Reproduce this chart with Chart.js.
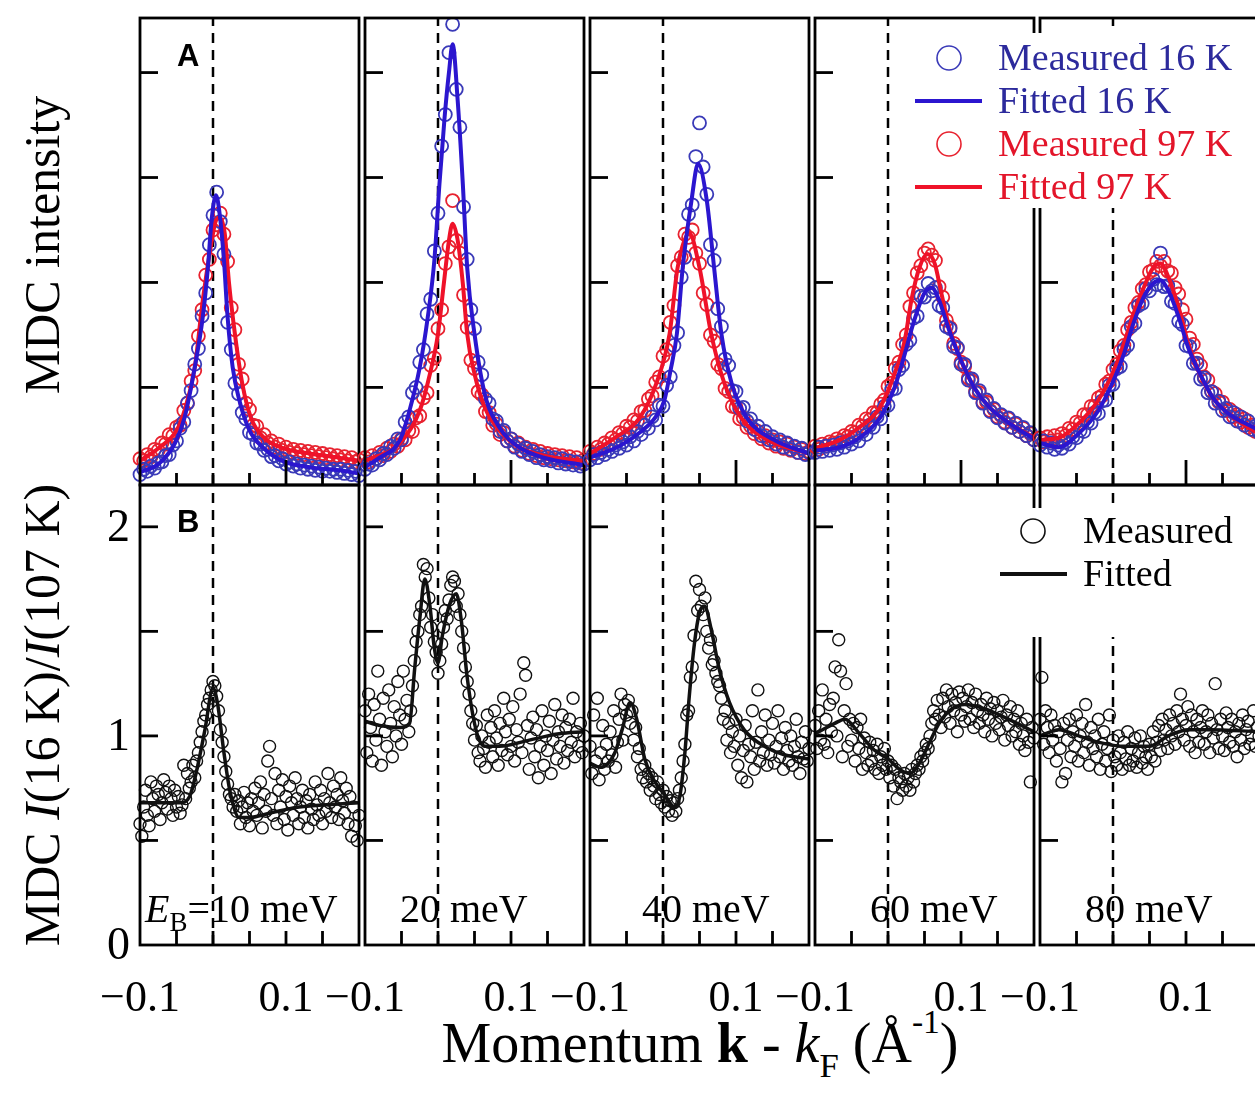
<!DOCTYPE html>
<html>
<head>
<meta charset="utf-8">
<script src="https://cdn.jsdelivr.net/npm/chart.js@4.4.1/dist/chart.umd.min.js"></script>
<style>
  html, body { margin:0; padding:0; background:#fff; }
  #fig { position:relative; width:1255px; height:1100px; overflow:hidden; background:#fff; }
  .ttl { position:absolute; font-family:'Liberation Serif', 'Times New Roman', serif; color:#000; white-space:nowrap; }
  .rot { font-size:50px; line-height:50px; transform: translate(-50%,-50%) rotate(-90deg); }
  .sub { font-size:0.62em; position:relative; top:0.42em; }
  .sup { font-size:0.6em; position:relative; top:-0.85em; }
</style>
</head>
<body>
<div id="fig">
  <div class="ttl rot" style="left:42px; top:245px;">MDC intensity</div>
  <div class="ttl rot" style="left:42px; top:715px;">MDC <i>I</i>(16 K)/<i>I</i>(107 K)</div>
  <div class="ttl" style="left:700px; top:1015px; font-size:56px; line-height:56px; transform:translateX(-50%);">Momentum <b>k</b> - <i>k</i><span class="sub">F</span> (Å<span class="sup">-1</span>)</div>
</div>
<script>
// ---------------- DATA ----------------
const energyLabels = ['10 meV', '20 meV', '40 meV', '60 meV', '80 meV'];

const xTickValues = [-0.1, 0.1];
const xTickText = ['\u22120.1', '0.1'];
const xMinorTicks = [-0.05, 0, 0.05, 0.1, 0.15];
const yTicksA = [1, 2, 3, 4];
const yTicksB = [0.5, 1, 1.5, 2];
const yLabelValuesB = [0, 1, 2];
const yLabelTextB = ['0', '1', '2'];

// momentum grid of the MDC intensity curves (1/Å)
const kA = [-0.1,-0.095,-0.09,-0.085,-0.08,-0.075,-0.07,-0.065,-0.06,-0.055,
-0.05,-0.045,-0.04,-0.035,-0.03,-0.025,-0.02,-0.015,-0.01,-0.005,
0,0.005,0.01,0.015,0.02,0.025,0.03,0.035,0.04,0.045,
0.05,0.055,0.06,0.065,0.07,0.075,0.08,0.085,0.09,0.095,
0.1,0.105,0.11,0.115,0.12,0.125,0.13,0.135,0.14,0.145,
0.15,0.155,0.16,0.165,0.17,0.175,0.18,0.185,0.19,0.195,
0.2];

// momentum grid of the ratio curves
const kB = [-0.1,-0.0975,-0.095,-0.0925,-0.09,-0.0875,-0.085,-0.0825,-0.08,-0.0775,
-0.075,-0.0725,-0.07,-0.0675,-0.065,-0.0625,-0.06,-0.0575,-0.055,-0.0525,
-0.05,-0.0475,-0.045,-0.0425,-0.04,-0.0375,-0.035,-0.0325,-0.03,-0.0275,
-0.025,-0.0225,-0.02,-0.0175,-0.015,-0.0125,-0.01,-0.0075,-0.005,-0.0025,
0,0.0025,0.005,0.0075,0.01,0.0125,0.015,0.0175,0.02,0.0225,
0.025,0.0275,0.03,0.0325,0.035,0.0375,0.04,0.0425,0.045,0.0475,
0.05,0.0525,0.055,0.0575,0.06,0.0625,0.065,0.0675,0.07,0.0725,
0.075,0.0775,0.08,0.0825,0.085,0.0875,0.09,0.0925,0.095,0.0975,
0.1,0.1025,0.105,0.1075,0.11,0.1125,0.115,0.1175,0.12,0.1225,
0.125,0.1275,0.13,0.1325,0.135,0.1375,0.14,0.1425,0.145,0.1475,
0.15,0.1525,0.155,0.1575,0.16,0.1625,0.165,0.1675,0.17,0.1725,
0.175,0.1775,0.18,0.1825,0.185,0.1875,0.19,0.1925,0.195,0.1975,
0.2];

// Panel A: measured MDC intensity (arb. units)
const mdc16_10 = [0.17,0.22,0.20,0.25,0.23,0.28,0.29,0.35,0.36,0.45,
0.49,0.61,0.67,0.85,0.97,1.22,1.37,1.68,1.90,2.36,
2.64,2.86,2.58,2.27,1.62,1.36,1.04,0.94,0.76,0.70,
0.57,0.55,0.47,0.46,0.40,0.41,0.34,0.35,0.30,0.32,
0.27,0.29,0.25,0.27,0.23,0.26,0.22,0.25,0.21,0.24,
0.20,0.23,0.20,0.22,0.19,0.22,0.18,0.21,0.17,0.20,
0.16];
const mdc97_10 = [0.32,0.30,0.36,0.34,0.41,0.40,0.47,0.46,0.55,0.54,
0.62,0.64,0.78,0.85,1.06,1.16,1.49,1.74,2.07,2.22,
2.50,2.55,2.66,2.46,2.20,1.76,1.55,1.22,1.08,0.85,
0.79,0.64,0.63,0.52,0.55,0.47,0.49,0.43,0.46,0.40,
0.43,0.38,0.41,0.37,0.40,0.36,0.39,0.35,0.38,0.34,
0.37,0.33,0.36,0.32,0.35,0.31,0.34,0.30,0.33,0.29,
0.31];
const mdc16_20 = [0.22,0.27,0.26,0.32,0.31,0.37,0.36,0.44,0.42,0.51,
0.50,0.67,0.72,0.95,1.00,1.24,1.36,1.70,1.84,2.30,
2.66,3.30,3.60,4.19,4.46,3.84,3.48,2.72,2.22,1.74,
1.56,1.24,1.12,0.89,0.85,0.70,0.68,0.58,0.59,0.49,
0.51,0.43,0.46,0.39,0.42,0.36,0.39,0.33,0.36,0.31,
0.34,0.30,0.33,0.28,0.32,0.27,0.30,0.26,0.29,0.25,
0.27];
const mdc97_20 = [0.33,0.29,0.35,0.32,0.38,0.35,0.42,0.39,0.46,0.44,
0.51,0.50,0.59,0.58,0.71,0.73,0.90,0.95,1.21,1.28,
1.56,1.74,2.18,2.34,2.78,2.40,2.28,1.88,1.57,1.26,
1.18,0.96,0.93,0.77,0.76,0.64,0.65,0.55,0.57,0.49,
0.51,0.44,0.47,0.40,0.43,0.37,0.41,0.35,0.39,0.33,
0.37,0.32,0.36,0.31,0.35,0.30,0.34,0.29,0.33,0.28,
0.31];
const mdc16_40 = [0.31,0.36,0.33,0.38,0.36,0.41,0.39,0.45,0.42,0.48,
0.45,0.53,0.49,0.58,0.55,0.64,0.61,0.72,0.69,0.83,
0.82,1.02,1.10,1.40,1.52,2.05,2.24,2.65,2.74,3.20,
3.52,3.10,2.84,2.36,2.21,1.75,1.58,1.27,1.21,0.97,
0.96,0.80,0.81,0.68,0.70,0.60,0.63,0.54,0.58,0.50,
0.53,0.46,0.50,0.43,0.47,0.41,0.44,0.38,0.42,0.36,
0.38];
const mdc97_40 = [0.39,0.37,0.43,0.41,0.47,0.46,0.52,0.50,0.57,0.56,
0.63,0.62,0.69,0.68,0.77,0.78,0.89,0.92,1.05,1.10,
1.30,1.36,1.62,1.78,2.16,2.24,2.46,2.43,2.50,2.28,
2.18,1.90,1.79,1.50,1.44,1.22,1.18,0.99,0.96,0.82,
0.81,0.70,0.71,0.62,0.63,0.56,0.58,0.51,0.54,0.47,
0.50,0.44,0.48,0.42,0.46,0.40,0.43,0.38,0.41,0.37,
0.39];
const mdc16_60 = [0.38,0.43,0.39,0.44,0.40,0.45,0.41,0.47,0.43,0.49,
0.46,0.53,0.49,0.58,0.55,0.64,0.62,0.72,0.70,0.82,
0.83,0.98,0.99,1.17,1.21,1.41,1.45,1.66,1.68,1.87,
1.86,1.99,1.92,1.95,1.78,1.76,1.58,1.56,1.39,1.38,
1.22,1.22,1.07,1.08,0.95,0.97,0.85,0.88,0.77,0.80,
0.71,0.74,0.66,0.71,0.62,0.66,0.58,0.62,0.54,0.57,
0.50];
const mdc97_60 = [0.44,0.41,0.46,0.44,0.48,0.47,0.51,0.49,0.54,0.53,
0.58,0.57,0.64,0.63,0.70,0.69,0.76,0.76,0.84,0.88,
1.01,1.04,1.18,1.24,1.41,1.50,1.77,1.90,2.09,2.16,
2.28,2.32,2.26,2.21,1.96,1.86,1.64,1.57,1.42,1.37,
1.24,1.20,1.09,1.06,0.96,0.95,0.86,0.86,0.78,0.79,
0.72,0.73,0.67,0.70,0.62,0.65,0.58,0.61,0.54,0.56,
0.50];
const mdc16_80 = [0.45,0.49,0.43,0.47,0.41,0.45,0.42,0.48,0.46,0.53,
0.52,0.59,0.58,0.67,0.66,0.76,0.75,0.87,0.88,1.02,
1.03,1.18,1.20,1.36,1.40,1.58,1.61,1.78,1.80,1.94,
1.92,2.03,1.98,2.28,1.96,1.97,1.82,1.80,1.63,1.60,
1.40,1.39,1.23,1.23,1.08,1.09,0.95,0.96,0.85,0.87,
0.78,0.80,0.72,0.76,0.68,0.72,0.64,0.68,0.60,0.63,
0.57];
const mdc97_80 = [0.52,0.48,0.53,0.49,0.54,0.50,0.56,0.54,0.61,0.60,
0.67,0.66,0.74,0.74,0.82,0.82,0.90,0.92,1.03,1.06,
1.17,1.22,1.35,1.40,1.55,1.62,1.76,1.81,1.94,1.98,
2.10,2.12,2.20,2.16,2.20,2.11,2.09,1.95,1.89,1.74,
1.65,1.47,1.41,1.27,1.21,1.10,1.07,0.96,0.94,0.86,
0.86,0.78,0.79,0.72,0.74,0.67,0.70,0.62,0.64,0.58,
0.58];

// Panel A: fitted curves (k, value)
const fit16_10_k = [-0.1,-0.073,-0.052,-0.039,-0.025,-0.014,-0.007,-0.002,0.004,0.009,0.015,0.02,0.027,0.036,0.05,0.068,0.095,0.132,0.173,0.2];
const fit16_10_v = [0.19,0.28,0.47,0.71,1.19,1.67,2.14,2.59,2.83,2.66,2.21,1.67,1.19,0.88,0.59,0.43,0.30,0.24,0.21,0.18];
const fit97_10_k = [-0.1,-0.073,-0.05,-0.039,-0.025,-0.014,-0.004,0.004,0.009,0.016,0.022,0.03,0.04,0.052,0.07,0.097,0.132,0.173,0.2];
const fit97_10_v = [0.30,0.43,0.59,0.78,1.19,1.83,2.30,2.59,2.62,2.47,1.99,1.51,1.04,0.71,0.52,0.42,0.37,0.33,0.30];
const fit16_20_k = [-0.1,-0.08,-0.052,-0.039,-0.025,-0.014,-0.005,0.002,0.009,0.015,0.02,0.027,0.034,0.04,0.05,0.064,0.084,0.111,0.145,0.2];
const fit16_20_v = [0.24,0.33,0.50,0.78,1.19,1.67,2.21,2.94,3.57,4.00,4.27,3.73,2.94,2.14,1.51,0.94,0.62,0.43,0.33,0.26];
const fit97_20_k = [-0.1,-0.052,-0.025,-0.011,0,0.008,0.015,0.02,0.027,0.034,0.04,0.05,0.064,0.084,0.111,0.145,0.2];
const fit97_20_v = [0.30,0.47,0.78,1.13,1.51,1.99,2.40,2.56,2.40,1.99,1.51,1.13,0.81,0.59,0.43,0.35,0.30];
const fit16_40_k = [-0.1,-0.06,-0.03,-0.01,0.002,0.01,0.019,0.027,0.039,0.048,0.06,0.07,0.08,0.094,0.115,0.152,0.2];
const fit16_40_v = [0.33,0.44,0.58,0.72,0.88,1.15,1.51,2.14,2.78,3.13,2.78,2.14,1.51,1.04,0.71,0.50,0.37];
const fit97_40_k = [-0.1,-0.066,-0.032,-0.009,0.009,0.02,0.036,0.05,0.066,0.084,0.107,0.143,0.2];
const fit97_40_v = [0.37,0.52,0.71,1.04,1.51,2.14,2.47,2.14,1.51,1.04,0.71,0.50,0.37];
const fit16_60_k = [-0.1,-0.066,-0.039,-0.011,0.009,0.023,0.036,0.05,0.06,0.07,0.084,0.098,0.118,0.139,0.166,0.2];
const fit16_60_v = [0.40,0.43,0.52,0.71,1.00,1.32,1.64,1.90,1.95,1.83,1.54,1.29,1.00,0.81,0.66,0.51];
const fit97_60_k = [-0.1,-0.066,-0.039,-0.011,0.009,0.023,0.032,0.043,0.054,0.064,0.073,0.084,0.098,0.118,0.139,0.166,0.2];
const fit97_60_v = [0.42,0.50,0.62,0.81,1.13,1.45,1.83,2.14,2.27,2.18,1.90,1.57,1.29,1.00,0.81,0.66,0.52];
const fit16_80_k = [-0.1,-0.074,-0.047,-0.02,0.001,0.015,0.028,0.042,0.055,0.065,0.076,0.09,0.103,0.117,0.137,0.158,0.192,0.2];
const fit16_80_v = [0.47,0.43,0.56,0.78,1.07,1.32,1.61,1.86,1.99,2.02,1.92,1.67,1.38,1.16,0.90,0.75,0.62,0.59];
const fit97_80_k = [-0.1,-0.074,-0.047,-0.02,0.001,0.015,0.028,0.042,0.055,0.065,0.076,0.09,0.103,0.117,0.137,0.158,0.192,0.2];
const fit97_80_v = [0.50,0.52,0.66,0.88,1.16,1.42,1.70,1.95,2.14,2.18,2.05,1.76,1.42,1.16,0.90,0.75,0.59,0.56];

// Panel B: measured ratio I(16 K)/I(107 K)
const ratio_10 = [0.58,0.52,0.66,0.74,0.62,0.57,0.78,0.70,0.64,0.76,
0.72,0.60,0.68,0.79,0.73,0.65,0.76,0.70,0.62,0.74,
0.66,0.71,0.63,0.67,0.86,0.70,0.82,0.75,0.78,0.86,
0.80,0.88,0.92,0.97,1.02,1.07,1.10,1.15,1.18,1.22,
1.26,1.24,1.19,1.12,1.03,0.97,0.90,0.83,0.77,0.72,
0.70,0.66,0.72,0.64,0.69,0.58,0.66,0.73,0.61,0.68,
0.57,0.70,0.64,0.75,0.62,0.68,0.78,0.56,0.72,0.64,
0.88,0.95,0.70,0.62,0.82,0.58,0.74,0.66,0.79,0.60,
0.71,0.55,0.76,0.68,0.62,0.80,0.70,0.58,0.66,0.74,
0.61,0.69,0.56,0.72,0.65,0.60,0.78,0.67,0.62,0.74,
0.58,0.70,0.64,0.82,0.68,0.61,0.76,0.66,0.72,0.60,
0.80,0.69,0.63,0.75,0.58,0.71,0.52,0.66,0.57,0.50,
0.62];
const ratio_20 = [1.12,0.92,1.20,1.04,0.88,1.15,0.98,1.31,1.08,0.86,
1.18,1.02,0.95,1.22,1.06,0.90,1.14,1.00,1.26,1.10,
0.96,1.31,1.08,1.17,1.02,1.12,1.24,1.36,1.45,1.50,
1.58,1.62,1.82,1.76,1.80,1.66,1.52,1.58,1.45,1.40,
1.30,1.36,1.44,1.52,1.60,1.56,1.65,1.72,1.76,1.74,
1.62,1.68,1.58,1.50,1.42,1.33,1.26,1.20,1.12,1.06,
0.98,1.05,0.92,0.88,1.00,0.94,0.85,1.10,0.97,1.04,
0.90,1.12,0.99,0.86,1.06,0.93,1.18,1.02,0.91,1.08,
0.95,1.14,0.88,1.03,0.97,1.20,0.92,1.35,1.29,1.05,
0.84,0.99,1.09,0.90,1.03,0.80,0.95,1.12,0.86,1.00,
0.93,1.07,0.82,0.98,1.15,0.89,1.02,0.95,1.10,0.87,
1.04,0.93,1.08,0.97,1.18,0.90,1.02,0.95,1.06,0.92,
1.00];
const ratio_40 = [0.95,0.82,1.10,0.88,1.18,0.79,0.92,1.05,0.84,0.96,
0.88,1.02,0.91,1.12,0.85,0.97,1.08,1.20,0.98,1.15,
1.10,1.17,1.06,1.12,0.98,1.04,0.90,0.94,0.84,0.80,
0.86,0.78,0.82,0.74,0.80,0.76,0.70,0.78,0.72,0.68,
0.74,0.66,0.71,0.64,0.69,0.62,0.68,0.64,0.70,0.74,
0.80,0.88,0.96,1.10,1.12,1.28,1.33,1.48,1.74,1.60,
1.70,1.62,1.58,1.66,1.50,1.42,1.46,1.34,1.36,1.30,
1.26,1.24,1.18,1.08,1.12,0.98,1.06,0.92,1.02,0.95,
1.08,0.86,1.00,0.80,0.93,1.05,0.78,0.96,0.90,1.12,
0.84,0.97,1.22,0.88,1.02,0.92,1.10,0.86,0.98,0.91,
1.06,0.87,0.95,1.12,0.90,0.99,0.84,1.04,0.93,0.88,
1.00,0.86,0.95,1.08,0.90,0.82,0.97,0.89,1.02,0.88,
0.94];
const ratio_60 = [1.05,0.94,1.12,0.98,1.22,0.96,1.08,0.92,1.15,1.02,
1.18,1.33,1.00,1.46,1.31,0.90,1.12,1.25,0.95,1.08,
0.98,1.06,0.88,1.04,0.94,1.08,0.84,0.99,0.92,0.86,
0.97,0.88,0.93,0.84,0.96,0.82,0.90,0.86,0.94,0.84,
0.88,0.80,0.86,0.76,0.84,0.70,0.80,0.78,0.74,0.82,
0.76,0.80,0.74,0.84,0.78,0.82,0.86,0.84,0.90,0.88,
0.92,0.96,0.94,1.00,1.06,1.12,1.08,1.17,1.10,1.04,
1.18,1.09,1.22,1.14,1.06,1.20,1.12,1.16,1.02,1.21,
1.10,1.18,1.07,1.14,1.22,1.08,1.16,1.04,1.20,1.12,
1.06,1.15,1.10,1.02,1.18,1.08,1.13,1.00,1.16,1.06,
1.12,1.03,1.09,1.17,0.98,1.10,1.05,1.14,1.00,1.08,
1.02,1.12,0.96,1.06,1.00,0.93,1.08,0.97,0.78,1.04,
0.99];
const ratio_80 = [1.08,1.28,0.96,1.12,1.04,0.92,1.10,0.98,1.05,0.88,
1.02,0.94,0.78,1.06,0.82,0.98,1.08,0.90,1.02,0.95,
1.10,0.88,1.00,1.06,0.92,1.15,0.97,0.86,1.04,0.94,
1.00,0.90,1.08,0.84,0.96,1.02,0.88,0.94,1.10,0.83,
0.98,0.90,0.86,1.00,0.92,0.84,0.97,0.89,1.02,0.86,
0.94,0.88,0.99,0.85,0.92,1.00,0.87,0.95,0.90,0.84,
0.96,0.90,1.02,0.88,0.97,1.05,0.93,1.08,0.98,1.03,
0.94,1.10,1.00,1.06,0.96,1.12,1.02,1.20,1.08,0.98,
1.05,1.14,0.95,1.10,1.02,0.92,1.08,0.97,1.04,1.12,
0.96,1.02,1.10,0.92,1.06,0.99,1.25,1.03,0.94,1.08,
1.00,0.93,1.11,1.04,0.97,1.08,0.95,1.02,0.90,1.06,
0.98,1.10,0.94,1.03,1.07,0.96,1.00,1.12,0.95,1.04,
1.00];

// Panel B: fitted ratio curves
const ratioFit_10_k = [-0.1,-0.045,-0.032,-0.022,-0.011,0,0.006,0.015,0.023,0.036,0.05,0.077,0.118,0.2];
const ratioFit_10_v = [0.68,0.68,0.71,0.84,1.03,1.23,1.16,0.92,0.74,0.61,0.61,0.63,0.66,0.68];
const ratioFit_20_k = [-0.1,-0.08,-0.052,-0.039,-0.032,-0.025,-0.018,-0.011,-0.005,0,0.006,0.016,0.025,0.032,0.04,0.052,0.064,0.084,0.125,0.166,0.2];
const ratioFit_20_v = [1.07,1.05,1.04,1.06,1.32,1.56,1.75,1.62,1.42,1.35,1.48,1.63,1.68,1.55,1.28,1.03,0.95,0.95,0.98,1.01,1.02];
const ratioFit_40_k = [-0.1,-0.086,-0.066,-0.056,-0.045,-0.036,-0.025,-0.011,0.002,0.016,0.023,0.03,0.036,0.043,0.05,0.057,0.066,0.077,0.091,0.111,0.139,0.166,0.2];
const ratioFit_40_v = [0.87,0.85,0.92,1.03,1.16,1.08,0.89,0.78,0.72,0.66,0.71,0.92,1.19,1.44,1.59,1.62,1.51,1.32,1.16,1.03,0.95,0.91,0.89];
const ratioFit_60_k = [-0.1,-0.073,-0.059,-0.039,-0.018,0,0.016,0.03,0.043,0.057,0.07,0.084,0.105,0.132,0.159,0.2];
const ratioFit_60_v = [1.01,1.06,1.08,1.01,0.93,0.89,0.84,0.82,0.87,0.97,1.06,1.12,1.15,1.13,1.09,1.02];
const ratioFit_80_k = [-0.1,-0.074,-0.047,-0.02,0.015,0.049,0.076,0.103,0.13,0.2];
const ratioFit_80_v = [1.00,1.03,1.00,0.97,0.95,0.95,1.00,1.03,1.03,1.02];

// ---------------- LAYOUT / STYLE ----------------
const PANEL_LEFT = [140, 365, 590, 815, 1040];
const PANEL_W = 219;
const ROWS = {
  A: { top: 18, h: 467, min: 0.07, max: 4.52, ptR: 6.5, ptW: 1.8 },
  B: { top: 485, h: 460, min: 0, max: 2.2, ptR: 6, ptW: 1.4 }
};
const X_MIN = -0.1, X_MAX = 0.2;
const PAD = { l: 150, r: 20, t: 20, b: 120 };
const ENERGY_OFFSET = [5, 35, 52, 55, 45];
const SERIF = '"Liberation Serif", "Times New Roman", serif';
const C = {
  blueLine: '#2b16cf', bluePt: '#3a3ab8', blueText: '#2c2a9c',
  redLine: '#ef1229', redPt: '#e8222f', redText: '#e3152a',
  black: '#111111'
};

const panelsA = [
  { m16: mdc16_10, m97: mdc97_10, f16k: fit16_10_k, f16v: fit16_10_v, f97k: fit97_10_k, f97v: fit97_10_v },
  { m16: mdc16_20, m97: mdc97_20, f16k: fit16_20_k, f16v: fit16_20_v, f97k: fit97_20_k, f97v: fit97_20_v },
  { m16: mdc16_40, m97: mdc97_40, f16k: fit16_40_k, f16v: fit16_40_v, f97k: fit97_40_k, f97v: fit97_40_v },
  { m16: mdc16_60, m97: mdc97_60, f16k: fit16_60_k, f16v: fit16_60_v, f97k: fit97_60_k, f97v: fit97_60_v },
  { m16: mdc16_80, m97: mdc97_80, f16k: fit16_80_k, f16v: fit16_80_v, f97k: fit97_80_k, f97v: fit97_80_v }
];
const panelsB = [
  { m: ratio_10, fk: ratioFit_10_k, fv: ratioFit_10_v },
  { m: ratio_20, fk: ratioFit_20_k, fv: ratioFit_20_v },
  { m: ratio_40, fk: ratioFit_40_k, fv: ratioFit_40_v },
  { m: ratio_60, fk: ratioFit_60_k, fv: ratioFit_60_v },
  { m: ratio_80, fk: ratioFit_80_k, fv: ratioFit_80_v }
];
const LEGEND_A = ['Measured 16 K', 'Fitted 16 K', 'Measured 97 K', 'Fitted 97 K'];
const LEGEND_B = ['Measured', 'Fitted'];

const pts = (xs, ys) => xs.map((x, i) => ({ x: x, y: ys[i] }));

function fitDS(label, xs, ys, color, width, legendColor) {
  return { label, data: pts(xs, ys), borderColor: color, backgroundColor: color, borderWidth: width,
    pointRadius: 0, cubicInterpolationMode: 'monotone', fill: false, clip: 3, legendColor };
}
function measDS(label, xs, ys, color, legendColor, row) {
  return { label, data: pts(xs, ys), showLine: false, borderColor: color, backgroundColor: 'rgba(0,0,0,0)',
    pointRadius: row.ptR, pointBorderWidth: row.ptW, pointBorderColor: color, pointBackgroundColor: 'rgba(0,0,0,0)',
    pointStyle: 'circle', clip: 8, legendColor };
}
function kfDS(row) {
  return { label: 'kF', data: [{ x: 0, y: row.min }, { x: 0, y: row.max }], borderColor: '#000',
    borderWidth: 2.5, borderDash: [10, 7], pointRadius: 0, fill: false };
}

function drawLegend(ctx, chart, labels, box, o) {
  ctx.save();
  ctx.fillStyle = '#fff';
  ctx.fillRect(box.x, box.y, box.w, box.h);
  labels.forEach((lab, i) => {
    const ds = chart.data.datasets.find(d => d.label === lab);
    const cy = box.y + o.first + i * o.step;
    if (ds.showLine === false) {
      ctx.beginPath();
      ctx.arc(o.markX, cy, o.r, 0, Math.PI * 2);
      ctx.strokeStyle = ds.pointBorderColor;
      ctx.lineWidth = 1.6;
      ctx.stroke();
    } else {
      ctx.beginPath();
      ctx.moveTo(o.lineX0, cy);
      ctx.lineTo(o.lineX1, cy);
      ctx.strokeStyle = ds.borderColor;
      ctx.lineWidth = 4;
      ctx.stroke();
    }
    ctx.fillStyle = ds.legendColor;
    ctx.font = '38px ' + SERIF;
    ctx.textAlign = 'left';
    ctx.textBaseline = 'middle';
    ctx.fillText(lab, o.textX, cy + 2);
  });
  ctx.restore();
}

function decorPlugin(rowKey, col) {
  return {
    id: 'decor',
    afterDatasetsDraw(chart) {
      const ctx = chart.ctx, ca = chart.chartArea;
      const xs = chart.scales.x, ys = chart.scales.y;
      ctx.save();
      ctx.strokeStyle = '#000';
      ctx.lineWidth = 2.8;
      ctx.strokeRect(ca.left, ca.top, ca.right - ca.left, ca.bottom - ca.top);
      xMinorTicks.forEach(v => {
        const px = xs.getPixelForValue(v);
        const len = rowKey === 'A' ? (v === 0.1 ? 25 : 12) : 14;
        ctx.beginPath(); ctx.moveTo(px, ca.bottom); ctx.lineTo(px, ca.bottom - len); ctx.stroke();
      });
      (rowKey === 'A' ? yTicksA : yTicksB).forEach(v => {
        const py = ys.getPixelForValue(v);
        ctx.beginPath(); ctx.moveTo(ca.left, py); ctx.lineTo(ca.left + 18, py); ctx.stroke();
      });
      ctx.restore();
    },
    afterDraw(chart) {
      const ctx = chart.ctx, ca = chart.chartArea;
      const xs = chart.scales.x, ys = chart.scales.y;
      ctx.save();
      ctx.fillStyle = '#000';
      if (rowKey === 'B') {
        ctx.font = '44px ' + SERIF;
        ctx.textAlign = 'center';
        ctx.textBaseline = 'alphabetic';
        xTickValues.forEach((v, i) => ctx.fillText(xTickText[i], xs.getPixelForValue(v), ca.bottom + 66));
        if (col === 0) {
          ctx.font = '46px ' + SERIF;
          ctx.textAlign = 'right';
          ctx.textBaseline = 'middle';
          yLabelValuesB.forEach((v, i) => ctx.fillText(yLabelTextB[i], ca.left - 10, ys.getPixelForValue(v) + 2));
        }
        // energy label
        ctx.textAlign = 'left';
        ctx.textBaseline = 'alphabetic';
        let x0 = ca.left + ENERGY_OFFSET[col];
        const yb = ca.bottom - 23;
        if (col === 0) {
          ctx.font = 'italic 40px ' + SERIF;
          ctx.fillText('E', x0, yb); x0 += ctx.measureText('E').width;
          ctx.font = '27px ' + SERIF;
          ctx.fillText('B', x0, yb + 9); x0 += ctx.measureText('B').width;
          ctx.font = '40px ' + SERIF;
          ctx.fillText('=' + energyLabels[0], x0, yb);
        } else {
          ctx.font = '40px ' + SERIF;
          ctx.fillText(energyLabels[col], x0, yb);
        }
      }
      if (col === 0) {
        ctx.font = 'bold 31px "Liberation Sans", Arial, sans-serif';
        ctx.textAlign = 'left';
        ctx.textBaseline = 'middle';
        ctx.fillText(rowKey, ca.left + 37, ca.top + (rowKey === 'A' ? 39 : 38));
      }
      ctx.restore();
      if (col === 4 && rowKey === 'A') {
        drawLegend(ctx, chart, LEGEND_A,
          { x: ca.left - 135, y: ca.top + 15, w: 400, h: 175 },
          { first: 25, step: 43, markX: ca.left - 91, r: 12, lineX0: ca.left - 125, lineX1: ca.left - 58, textX: ca.left - 42 });
      }
      if (col === 4 && rowKey === 'B') {
        drawLegend(ctx, chart, LEGEND_B,
          { x: ca.left - 45, y: ca.top + 23, w: 300, h: 129 },
          { first: 23, step: 43, markX: ca.left - 7, r: 12, lineX0: ca.left - 40, lineX1: ca.left + 27, textX: ca.left + 43 });
      }
    }
  };
}

const fig = document.getElementById('fig');
function makeChart(rowKey, col, datasets) {
  const row = ROWS[rowKey];
  const w = PANEL_W + PAD.l + PAD.r, h = row.h + PAD.t + PAD.b;
  const c = document.createElement('canvas');
  c.width = w; c.height = h;
  c.style.cssText = 'position:absolute;left:' + (PANEL_LEFT[col] - PAD.l) + 'px;top:' + (row.top - PAD.t) +
    'px;width:' + w + 'px;height:' + h + 'px;';
  fig.appendChild(c);
  return new Chart(c, {
    type: 'line',
    data: { datasets },
    options: {
      responsive: false, animation: false, events: [], devicePixelRatio: 1,
      layout: { padding: { left: PAD.l, right: PAD.r, top: PAD.t, bottom: PAD.b } },
      plugins: { legend: { display: false }, tooltip: { enabled: false }, title: { display: false } },
      scales: {
        x: { type: 'linear', min: X_MIN, max: X_MAX, display: false },
        y: { type: 'linear', min: row.min, max: row.max, display: false }
      }
    },
    plugins: [decorPlugin(rowKey, col)]
  });
}

panelsA.forEach((p, i) => {
  makeChart('A', i, [
    fitDS('Fitted 16 K', p.f16k, p.f16v, C.blueLine, 4, C.blueText),
    fitDS('Fitted 97 K', p.f97k, p.f97v, C.redLine, 4, C.redText),
    measDS('Measured 16 K', kA, p.m16, C.bluePt, C.blueText, ROWS.A),
    measDS('Measured 97 K', kA, p.m97, C.redPt, C.redText, ROWS.A),
    kfDS(ROWS.A)
  ]);
});
panelsB.forEach((p, i) => {
  makeChart('B', i, [
    fitDS('Fitted', p.fk, p.fv, C.black, 3.5, '#000'),
    measDS('Measured', kB, p.m, C.black, '#000', ROWS.B),
    kfDS(ROWS.B)
  ]);
});
</script>
</body>
</html>
